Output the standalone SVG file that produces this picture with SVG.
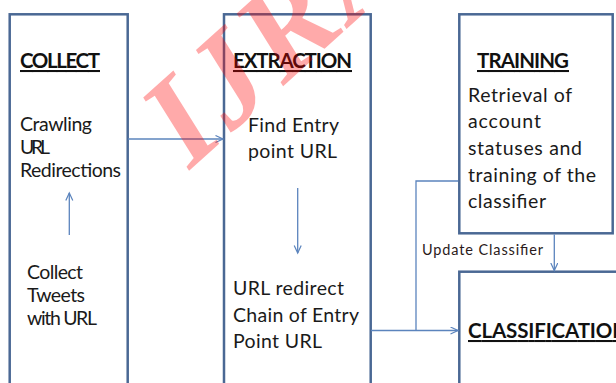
<svg xmlns="http://www.w3.org/2000/svg" width="616" height="383" viewBox="0 0 616 383">
  <defs>
    <marker id="arrow" markerWidth="10" markerHeight="10" refX="8" refY="4" orient="auto" markerUnits="userSpaceOnUse">
      <path d="M0.5,0.5 L8,4 L0.5,7.5" fill="none" stroke="#5b84bd" stroke-width="1.2"/>
    </marker>
  </defs>
  <style>
    .box { fill: #ffffff; stroke: #4a6894; stroke-width: 2.5; }
    .conn { fill: none; stroke: #5b84bd; stroke-width: 1.3; }
    .title { font-family: Lato, "Liberation Sans", sans-serif; font-weight: bold; font-size: 20.5px; fill: #111111; text-decoration: underline; }
    .body { font-family: Lato, "Liberation Sans", sans-serif; font-size: 19.5px; fill: #1a1a1a; }
    .small { font-family: Lato, "Liberation Sans", sans-serif; font-size: 14.5px; fill: #2a1a1a; }
    .mark { font-family: "Liberation Serif", serif; font-style: italic; font-weight: bold; font-size: 130px; letter-spacing: 5px; fill: #ff0000; opacity: 0.33; }
  </style>
  <rect width="616" height="383" fill="#ffffff"/>

  <g id="collect">
    <rect class="box" x="9.7" y="14.3" width="118" height="380"/>
    <text class="title" x="20" y="68" textLength="80">COLLECT</text>
    <text class="body" x="20" y="131" textLength="72">Crawling</text>
    <text class="body" x="20" y="154" textLength="30">URL</text>
    <text class="body" x="20" y="177" textLength="101">Redirections</text>
    <text class="body" x="27" y="279" textLength="56">Collect</text>
    <text class="body" x="27" y="302" textLength="58">Tweets</text>
    <text class="body" x="27" y="325" textLength="70">with URL</text>
  </g>

  <g id="extraction">
    <rect class="box" x="224" y="14.3" width="146.7" height="380"/>
    <text class="title" x="233" y="68" textLength="119">EXTRACTION</text>
    <text class="body" x="248" y="132" textLength="91">Find Entry</text>
    <text class="body" x="248" y="158" textLength="89">point URL</text>
    <text class="body" x="233" y="295" textLength="111">URL redirect</text>
    <text class="body" x="233" y="322" textLength="126">Chain of Entry</text>
    <text class="body" x="233" y="348" textLength="89">Point URL</text>
  </g>

  <g id="training">
    <rect class="box" x="459.3" y="14.3" width="153.4" height="219"/>
    <text class="title" x="477" y="68" textLength="92">TRAINING</text>
    <text class="body" x="468" y="102" textLength="104">Retrieval of</text>
    <text class="body" x="468" y="128" textLength="73">account</text>
    <text class="body" x="468" y="155" textLength="114">statuses and</text>
    <text class="body" x="468" y="182" textLength="128">training of the</text>
    <text class="body" x="468" y="208" textLength="78">classifier</text>
  </g>

  <g id="classification">
    <rect class="box" x="459.3" y="271.7" width="170" height="130"/>
    <text class="title" x="468" y="338" textLength="160">CLASSIFICATION</text>
  </g>

  <g id="connectors">
    <line class="conn" x1="128" y1="139" x2="223" y2="139" marker-end="url(#arrow)"/>
    <line class="conn" x1="69.3" y1="235" x2="69.3" y2="193" marker-end="url(#arrow)"/>
    <line class="conn" x1="297.7" y1="188" x2="297.7" y2="253" marker-end="url(#arrow)"/>
    <line class="conn" x1="371" y1="330.5" x2="458" y2="330.5" marker-end="url(#arrow)"/>
    <polyline class="conn" points="416,330.5 416,181 458,181"/>
    <line class="conn" x1="554.3" y1="234.5" x2="554.3" y2="270.5" marker-end="url(#arrow)"/>
    <text class="small" x="422" y="255" textLength="121">Update Classifier</text>
  </g>

  <text class="mark" transform="translate(190,170) rotate(-42)">IJRAR</text>
</svg>
